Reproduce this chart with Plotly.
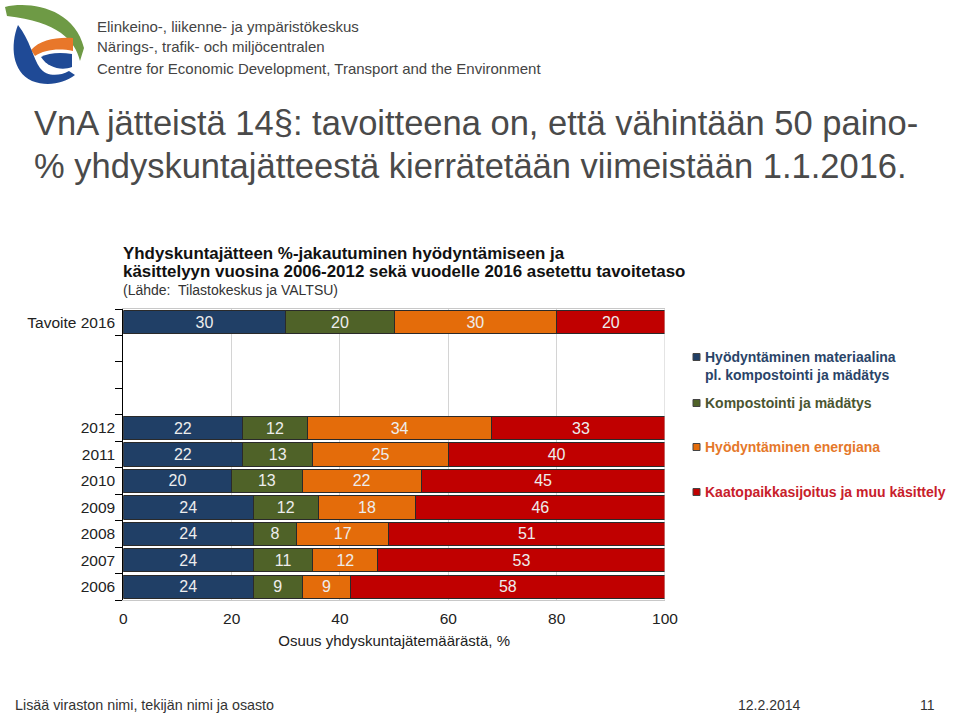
import plotly.graph_objects as go

W, H = 960, 714

# ---------------- data ----------------
categories = ["Tavoite 2016", " ", "  ", "   ", "2012", "2011", "2010", "2009", "2008", "2007", "2006"]
material = [30, None, None, None, 22, 22, 20, 24, 24, 24, 24]
compost = [20, None, None, None, 12, 13, 13, 12, 8, 11, 9]
energy = [30, None, None, None, 34, 25, 22, 18, 17, 12, 9]
landfill = [20, None, None, None, 33, 40, 45, 46, 51, 53, 58]
series_names = [
    "Hyödyntäminen materiaalina<br>pl. kompostointi ja mädätys",
    "Kompostointi ja mädätys",
    "Hyödyntäminen energiana",
    "Kaatopaikkasijoitus ja muu käsittely",
]
x_ticks = [0, 20, 40, 60, 80, 100]

bar_colors = ["#203F66", "#4F6228", "#E46C0A", "#C00000"]
legend_text_colors = ["#2A4468", "#4A5530", "#E5782A", "#C8202A"]


def px(x, y):
    return x / W, 1 - y / H


fig = go.Figure()
for name, vals, col in zip(series_names, [material, compost, energy, landfill], bar_colors):
    fig.add_trace(go.Bar(
        y=categories, x=vals, orientation="h", name=name,
        marker=dict(color=col, line=dict(color="#2A2A2A", width=1)),
        text=[("" if v is None else str(v)) for v in vals],
        textposition="inside", insidetextanchor="middle",
        textfont=dict(family="Liberation Sans, Arial", size=16, color="#EDEDED"),
        showlegend=False, hoverinfo="skip",
    ))

x0, _ = px(123.3, 0)
x1, _ = px(665, 0)
_, ytop = px(0, 309)
_, ybot = px(0, 600)

fig.update_layout(
    width=W, height=H,
    margin=dict(l=0, r=0, t=0, b=0, autoexpand=False),
    paper_bgcolor="white", plot_bgcolor="white",
    barmode="stack", bargap=0.12,
    font=dict(family="Liberation Sans, Arial", color="#222222"),
    xaxis=dict(
        domain=[x0, x1], range=[0, 100], tickvals=x_ticks,
        showgrid=True, gridcolor="#D4D4D4", gridwidth=1,
        showline=True, linecolor="#C8C8C8", linewidth=1, mirror=True,
        zeroline=False, ticks="",
        tickfont=dict(size=15.5, color="#222222"),
        ticklabelstandoff=4, automargin=False,
        title=dict(text="Osuus yhdyskuntajätemäärästä, %", font=dict(size=15, color="#222222"), standoff=9),
    ),
    yaxis=dict(
        domain=[ybot, ytop],
        categoryorder="array", categoryarray=categories[::-1],
        showline=True, linecolor="#000000", linewidth=1,
        ticks="outside", tickson="boundaries", ticklen=7, tickcolor="#000000",
        showgrid=False, zeroline=False, automargin=False,
        tickfont=dict(size=15.5, color="#222222"),
        ticklabelstandoff=4,
    ),
)

# right frame line of plot area
fig.add_shape(type="line", xref="x", yref="paper", x0=100, x1=100, y0=ybot, y1=ytop,
              line=dict(color="#C8C8C8", width=1))

ann = []


def text(x, y, t, size, color, family="Liberation Sans, Arial", xanchor="left", yanchor="middle", align="left"):
    ax, ay = px(x, y)
    ann.append(dict(x=ax, y=ay, xref="paper", yref="paper", text=t, showarrow=False,
                    xanchor=xanchor, yanchor=yanchor, align=align, borderpad=0,
                    font=dict(size=size, color=color, family=family)))


# header
text(96, 27, "Elinkeino-, liikenne- ja ympäristökeskus", 15, "#444444")
text(96, 47, "Närings-, trafik- och miljöcentralen", 15, "#444444")
text(96, 68, "Centre for Economic Development, Transport and the Environment", 15, "#444444")

# slide title
title_font = "Liberation Sans, Arial"
text(33, 123, "VnA jätteistä 14§: tavoitteena on, että vähintään 50 paino-", 34.5, "#4A4A4A", family=title_font)
text(33, 166, "% yhdyskuntajätteestä kierrätetään viimeistään 1.1.2016.", 34.5, "#4A4A4A", family=title_font)

# chart title
text(122, 253, "<b>Yhdyskuntajätteen %-jakautuminen hyödyntämiseen ja</b>", 16.9, "#111111")
text(122, 271, "<b>käsittelyyn vuosina 2006-2012 sekä vuodelle 2016 asetettu tavoitetaso</b>", 16.9, "#111111")
text(122, 290, "(Lähde:  Tilastokeskus ja VALTSU)", 14, "#333333")

# legend
legend_y = [357, 403, 447, 492]
for name, col, tcol, ly in zip(series_names, bar_colors, legend_text_colors, legend_y):
    a0, b0 = px(693, ly - 3.5)
    a1, b1 = px(700, ly + 3.5)
    fig.add_shape(type="rect", xref="paper", yref="paper", x0=a0, x1=a1, y0=b1, y1=b0,
                  fillcolor=col, line=dict(color="#444444", width=1))
    text(704, ly - 9, "<b>" + name + "</b>", 14, tcol, yanchor="top")

# footer
text(14, 705, "Lisää viraston nimi, tekijän nimi ja osasto", 14.3, "#333333")
text(737, 705, "12.2.2014", 14, "#333333")
text(936, 705, "11", 14, "#333333", xanchor="right")

fig.update_layout(annotations=ann)


# logo
def path(pts_cmd):
    out = []
    for tok in pts_cmd:
        if isinstance(tok, str):
            out.append(tok)
        else:
            a, b = px(*tok)
            out.append(f"{a:.5f},{b:.5f}")
    return " ".join(out)


green = path(["M", (5, 7), "C", (30, 1), (74, 8), (84, 48), "L", (80, 61), "C", (75, 40), (58, 22), (7, 16), "Z"])
orange = path(["M", (31, 50), "C", (40, 40), (56, 37), (73, 38), "L", (73, 51), "C", (58, 48), (44, 50), (35, 56), "Z"])
blue = path(["M", (18, 25), "C", (10, 45), (12, 72), (32, 81), "C", (48, 87), (64, 83), (75, 75), "L", (69, 71),
             "C", (58, 77), (46, 76), (40, 68), "C", (33, 58), (30, 40), (18, 25), "Z"])
blue2 = path(["M", (41, 57), "C", (48, 53), (60, 52), (72, 54), "L", (72, 67), "C", (62, 71), (48, 68), (41, 57), "Z"])
for p, c in [(green, "#6E9A45"), (orange, "#E8772A"), (blue, "#1F4A96"), (blue2, "#1F4A96")]:
    fig.add_shape(type="path", xref="paper", yref="paper", path=p, fillcolor=c, line=dict(width=0))

fig.write_html(
    "out.html",
    config={"displayModeBar": False},
    post_script="document.body.style.margin='0';document.body.style.padding='0';document.body.style.overflow='hidden';",
)
